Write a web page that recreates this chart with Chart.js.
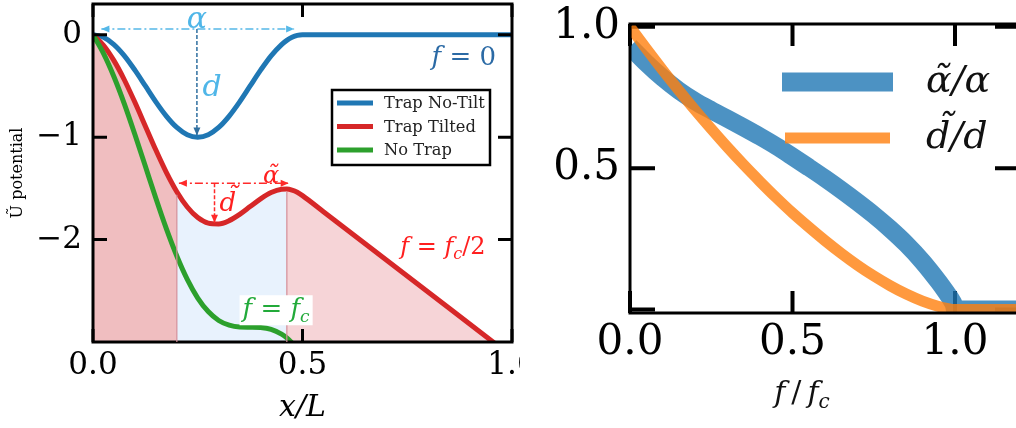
<!DOCTYPE html>
<html>
<head>
<meta charset="utf-8">
<script src="https://cdn.jsdelivr.net/npm/chart.js@4.4.1/dist/chart.umd.min.js"></script>
<style>
  html, body { margin: 0; padding: 0; background: #fff; overflow: hidden; width: 1016px; height: 428px; }
  #left { position: absolute; left: 0; top: 0; }
  #right { position: absolute; left: 520px; top: 0; }
</style>
</head>
<body>
<canvas id="left" width="520" height="428"></canvas>
<canvas id="right" width="520" height="428"></canvas>
<script>
// ---------------- data: left panel (potential vs x/L) ----------------
const posX    = [0, 0.025, 0.05, 0.075, 0.1, 0.125, 0.15, 0.175, 0.2, 0.225, 0.25, 0.275, 0.3, 0.325, 0.35, 0.375, 0.4, 0.425, 0.45, 0.4625, 0.475, 0.4875, 0.5, 0.55, 1.0];
const noTilt  = [0, -0.025, -0.096, -0.206, -0.346, -0.5, -0.655, -0.794, -0.905, -0.976, -1.0, -0.976, -0.905, -0.794, -0.655, -0.5, -0.346, -0.206, -0.096, -0.055, -0.025, -0.006, 0, 0, 0];
const tilted  = [0, -0.103, -0.253, -0.442, -0.660, -0.893, -1.126, -1.344, -1.533, -1.682, -1.785, -1.839, -1.847, -1.815, -1.754, -1.678, -1.602, -1.541, -1.509, -1.507, -1.517, -1.538, -1.571, -1.728, -3.142];
const noTrap  = [0, -0.182, -0.410, -0.677, -0.974, -1.285, -1.597, -1.894, -2.161, -2.389, -2.571, -2.703, -2.790, -2.836, -2.854, -2.856, -2.859, -2.877, -2.923, -2.960, -3.009, -3.069, -3.142, null, null];
const seriesNames = ["Trap No-Tilt", "Trap Tilted", "No Trap"];
const shadeEdges  = [0, 0.2, 0.4625, 1.0];
const shadeColors = ["rgb(240,190,192)", "rgb(232,242,253)", "rgb(246,212,215)"];
const leftXTicks = [0, 0.5, 1.0];
const leftYTicks = [-2, -1, 0];

// ---------------- data: right panel (ratios vs f/fc) ----------------
const forceX     = [0, 0.05, 0.1, 0.15, 0.2, 0.25, 0.3, 0.35, 0.4, 0.45, 0.5, 0.55, 0.6, 0.65, 0.7, 0.75, 0.8, 0.85, 0.9, 0.95, 0.975, 0.99, 0.997, 1.0, 1.2];
const alphaRatio = [0.93, 0.872, 0.82, 0.775, 0.737, 0.705, 0.675, 0.644, 0.612, 0.578, 0.541, 0.503, 0.464, 0.423, 0.38, 0.335, 0.286, 0.232, 0.17, 0.098, 0.058, 0.032, 0.016, 0, 0];
const depthRatio = [1.0, 0.923, 0.848, 0.776, 0.706, 0.639, 0.574, 0.512, 0.453, 0.396, 0.342, 0.292, 0.244, 0.199, 0.157, 0.119, 0.085, 0.055, 0.030, 0.011, 0.004, 0.001, 0, 0, 0];
const ratioNames = ["α̃/α", "d̃/d"];
const rightXTicks = [0, 0.5, 1.0];
const rightYTicks = [0.5, 1.0];
const rightYMarks = [0, 0.5, 1.0];

Chart.defaults.font.family = "'DejaVu Serif', serif";
Chart.defaults.color = "#000";

const SERIF = "'DejaVu Serif', serif";

// text with italic / normal / subscript parts
function drawMath(ctx, parts, x, y, size, color, align) {
  const fontFor = k => (k === "n" ? "" : "italic ") + (k === "s" ? Math.round(size * 0.65) : size) + "px " + SERIF;
  let w = 0;
  for (const [t, k] of parts) { ctx.font = fontFor(k); w += ctx.measureText(t).width; }
  let cx = align === "center" ? x - w / 2 : (align === "right" ? x - w : x);
  ctx.fillStyle = color;
  ctx.textBaseline = "middle";
  ctx.textAlign = "left";
  for (const [t, k] of parts) {
    ctx.font = fontFor(k);
    ctx.fillText(t, cx, k === "s" ? y + size * 0.3 : y);
    cx += ctx.measureText(t).width;
  }
  return w;
}

function measureMath(ctx, parts, size) {
  let w = 0;
  for (const [t, k] of parts) {
    ctx.font = (k === "n" ? "" : "italic ") + (k === "s" ? Math.round(size * 0.65) : size) + "px " + SERIF;
    w += ctx.measureText(t).width;
  }
  return w;
}

function arrow(ctx, x1, y1, x2, y2, color, dash, startHead, endHead) {
  ctx.save();
  ctx.strokeStyle = color;
  ctx.fillStyle = color;
  ctx.lineWidth = 1.5;
  ctx.setLineDash(dash);
  ctx.beginPath();
  ctx.moveTo(x1, y1);
  ctx.lineTo(x2, y2);
  ctx.stroke();
  ctx.setLineDash([]);
  const head = (xa, ya, xb, yb) => {
    const a = Math.atan2(yb - ya, xb - xa);
    ctx.beginPath();
    ctx.moveTo(xb, yb);
    ctx.lineTo(xb - 8 * Math.cos(a) + 3.5 * Math.sin(a), yb - 8 * Math.sin(a) - 3.5 * Math.cos(a));
    ctx.lineTo(xb - 8 * Math.cos(a) - 3.5 * Math.sin(a), yb - 8 * Math.sin(a) + 3.5 * Math.cos(a));
    ctx.closePath();
    ctx.fill();
  };
  if (endHead) head(x1, y1, x2, y2);
  if (startHead) head(x2, y2, x1, y1);
  ctx.restore();
}

function drawTicks(chart, o) {
  const {ctx, chartArea: a, scales: {x, y}} = chart;
  ctx.save();
  ctx.strokeStyle = "#000";
  ctx.lineWidth = o.tickWidth;
  ctx.beginPath();
  o.xTicks.forEach(v => {
    const p = x.getPixelForValue(v);
    ctx.moveTo(p, a.top); ctx.lineTo(p, a.top + o.xLen);
    ctx.moveTo(p, a.bottom); ctx.lineTo(p, a.bottom - o.xLen);
  });
  o.yTicks.forEach(v => {
    const p = y.getPixelForValue(v);
    ctx.moveTo(a.left, p); ctx.lineTo(a.left + o.yLen, p);
    ctx.moveTo(a.right, p); ctx.lineTo(a.right - o.yLen, p);
  });
  ctx.stroke();
  ctx.restore();
}

function frame(o) {
  return {
    id: "frame",
    beforeDatasetsDraw(chart) { if (!o.ticksOnTop) drawTicks(chart, o); },
    afterDatasetsDraw(chart) {
      if (o.ticksOnTop) drawTicks(chart, o);
      const {ctx, chartArea: a} = chart;
      ctx.save();
      ctx.strokeStyle = "#000";
      ctx.lineWidth = 3;
      ctx.strokeRect(a.left, a.top, a.right - a.left, a.bottom - a.top);
      ctx.restore();
    }
  };
}

//----------------left panel-------------------
const pts = arr => posX.map((x, i) => ({x: x, y: arr[i]}));
const region = (lo, hi) => posX.map((x, i) => ({x: x, y: tilted[i]})).filter(p => p.x >= lo && p.x <= hi);

const leftSets = [
  {label: seriesNames[2], data: pts(noTrap), borderColor: "#2ca02c", borderWidth: 5, order: 1},
  {label: seriesNames[1], data: pts(tilted), borderColor: "#d62728", borderWidth: 5, order: 2},
  {label: seriesNames[0], data: pts(noTilt), borderColor: "#1f77b4", borderWidth: 5, order: 3}
];
shadeColors.forEach((c, i) => {
  leftSets.push({label: "shade" + i, data: region(shadeEdges[i], shadeEdges[i + 1]),
    borderWidth: 0, borderColor: "rgba(0,0,0,0)", backgroundColor: c, fill: "start", order: 10});
});
leftSets.forEach(d => {
  d.pointRadius = 0;
  d.cubicInterpolationMode = "monotone";
  d.clip = 0;
  if (!d.fill) d.fill = false;
});

const leftNotes = {
  id: "leftNotes",
  afterDatasetsDraw(chart) {
    const {ctx, chartArea: a, scales: {x, y}} = chart;
    const X = v => x.getPixelForValue(v), Y = v => y.getPixelForValue(v);

    // boundaries of the shaded regions
    ctx.save();
    ctx.strokeStyle = "rgba(210,140,150,0.8)";
    ctx.lineWidth = 1.5;
    [shadeEdges[1], shadeEdges[2]].forEach(e => {
      const yv = tilted[posX.indexOf(e)];
      ctx.beginPath();
      ctx.moveTo(X(e), Y(yv) + 3);
      ctx.lineTo(X(e), a.bottom);
      ctx.stroke();
    });
    ctx.restore();

    // untilted trap: width and depth
    arrow(ctx, X(0.02), Y(0.055), X(0.48), Y(0.055), "#55b8e8", [8, 3, 2, 3], true, true);
    arrow(ctx, X(0.248), Y(0.055), X(0.248), Y(-0.985), "#2f6f9f", [4, 2], false, true);
    drawMath(ctx, [["α", "i"]], X(0.248), Y(0.14), 30, "#4fb6e8", "center");
    drawMath(ctx, [["d", "i"]], X(0.284), Y(-0.52), 30, "#4fb6e8", "center");

    // tilted trap: width and depth
    arrow(ctx, X(0.205), Y(-1.45), X(0.467), Y(-1.45), "#ff2a2a", [8, 3, 2, 3], true, true);
    arrow(ctx, X(0.29), Y(-1.45), X(0.29), Y(-1.835), "#ff2a2a", [4, 2], false, true);
    drawMath(ctx, [["α̃", "i"]], X(0.425), Y(-1.385), 24, "#ff1f1f", "center");
    drawMath(ctx, [["d̃", "i"]], X(0.322), Y(-1.655), 26, "#ff1f1f", "center");

    // curve labels
    drawMath(ctx, [["f", "i"], [" = 0", "n"]], X(0.885), Y(-0.225), 26, "#2b6aa5", "center");
    drawMath(ctx, [["f", "i"], [" = ", "n"], ["f", "i"], ["c", "s"], ["/2", "n"]], X(0.835), Y(-2.08), 24, "#ff1f1f", "center");
    const parts = [["f", "i"], [" = ", "n"], ["f", "i"], ["c", "s"]];
    const w = measureMath(ctx, parts, 26);
    ctx.fillStyle = "#fff";
    ctx.fillRect(X(0.437) - w / 2 - 3, Y(-2.69) - 15, w + 6, 30);
    drawMath(ctx, parts, X(0.437), Y(-2.69), 26, "#22aa3a", "center");

    // legend box
    const bx = a.left + 239, by = a.top + 86, bw = 158, bh = 75;
    ctx.save();
    ctx.fillStyle = "#fff";
    ctx.fillRect(bx, by, bw, bh);
    ctx.strokeStyle = "#000";
    ctx.lineWidth = 2.5;
    ctx.strokeRect(bx, by, bw, bh);
    const legendSets = [leftSets[2], leftSets[1], leftSets[0]];
    ctx.font = "16.3px " + SERIF;
    ctx.textBaseline = "middle";
    legendSets.forEach((d, i) => {
      const ly = by + 13 + i * 23.5;
      ctx.strokeStyle = d.borderColor;
      ctx.lineWidth = 5;
      ctx.beginPath();
      ctx.moveTo(bx + 5, ly);
      ctx.lineTo(bx + 41, ly);
      ctx.stroke();
      ctx.fillStyle = "#222";
      ctx.fillText(d.label, bx + 52, ly + 1);
    });
    ctx.restore();
  }
};

new Chart(document.getElementById("left"), {
  type: "line",
  data: {datasets: leftSets},
  options: {
    responsive: false,
    animation: false,
    layout: {padding: {left: 0, top: 4, right: 8, bottom: 0}},
    plugins: {legend: {display: false}, tooltip: {enabled: false}},
    scales: {
      x: {
        type: "linear", min: 0, max: 1,
        grid: {display: false, drawTicks: false}, border: {display: false},
        afterBuildTicks: s => { s.ticks = leftXTicks.map(v => ({value: v})); },
        afterFit: s => { s.height = 86; s.paddingLeft = 0; s.paddingRight = 0; },
        ticks: {font: {size: 31}, padding: 5, maxRotation: 0, autoSkip: false, callback: v => v.toFixed(1)},
        title: {display: true, text: "x/L", font: {size: 30, style: "italic"}, padding: {top: 0, bottom: 2}}
      },
      y: {
        type: "linear", min: -3, max: 0.3,
        grid: {display: false, drawTicks: false}, border: {display: false},
        afterBuildTicks: s => { s.ticks = leftYTicks.map(v => ({value: v})); },
        afterFit: s => { s.width = 93; s.paddingTop = 0; s.paddingBottom = 0; },
        ticks: {font: {size: 31}, padding: 11, autoSkip: false, callback: v => v === 0 ? "0" : "\u2212" + Math.abs(v)},
        title: {display: true, text: "Ũ potential", font: {size: 16}, padding: {top: 8, bottom: 0}}
      }
    }
  },
  plugins: [frame({xTicks: leftXTicks, yTicks: leftYTicks, xLen: 13, yLen: 14, tickWidth: 3, ticksOnTop: true}), leftNotes]
});

//----------------right panel-------------------
const rightSets = [
  {label: ratioNames[1], data: forceX.map((x, i) => ({x: x, y: depthRatio[i]})), borderColor: "rgba(255,127,14,0.8)", borderWidth: 11, order: 1},
  {label: ratioNames[0], data: forceX.map((x, i) => ({x: x, y: alphaRatio[i]})), borderColor: "rgba(31,119,180,0.8)", borderWidth: 18, order: 2}
];
rightSets.forEach(d => {
  d.pointRadius = 0;
  d.cubicInterpolationMode = "monotone";
  d.clip = 0;
  d.fill = false;
});

const rightNotes = {
  id: "rightNotes",
  afterDatasetsDraw(chart) {
    const {ctx, chartArea: a} = chart;
    ctx.save();
    const rows = [
      {d: rightSets[1], w: 19, x1: 152, x2: 263, y: a.top + 58},
      {d: rightSets[0], w: 11, x1: 155, x2: 260, y: a.top + 114}
    ];
    rows.forEach(r => {
      ctx.strokeStyle = r.d.borderColor;
      ctx.lineWidth = r.w;
      ctx.beginPath();
      ctx.moveTo(a.left + r.x1, r.y);
      ctx.lineTo(a.left + r.x2, r.y);
      ctx.stroke();
      drawMath(ctx, [[r.d.label, "i"]], a.left + 296, r.y, 38, "#111", "left");
    });
    ctx.restore();
    // axis title
    drawMath(ctx, [["f", "i"], ["\u2009/\u2009", "n"], ["f", "i"], ["c", "s"]], a.left + 172, 394, 30, "#111", "center");
  }
};

new Chart(document.getElementById("right"), {
  type: "line",
  data: {datasets: rightSets},
  options: {
    responsive: false,
    animation: false,
    layout: {padding: {left: 0, top: 24, right: 20, bottom: 0}},
    plugins: {legend: {display: false}, tooltip: {enabled: false}},
    scales: {
      x: {
        type: "linear", min: 0, max: 1.2,
        grid: {display: false, drawTicks: false}, border: {display: false},
        afterBuildTicks: s => { s.ticks = rightXTicks.map(v => ({value: v})); },
        afterFit: s => { s.height = 115; s.paddingLeft = 0; s.paddingRight = 0; },
        ticks: {font: {size: 42}, padding: 5, maxRotation: 0, autoSkip: false, callback: v => v.toFixed(1)}
      },
      y: {
        type: "linear", min: -0.012, max: 1.01,
        grid: {display: false, drawTicks: false}, border: {display: false},
        afterBuildTicks: s => { s.ticks = rightYTicks.map(v => ({value: v})); },
        afterFit: s => { s.width = 110; s.paddingTop = 0; s.paddingBottom = 0; },
        ticks: {font: {size: 42}, padding: 10, autoSkip: false, callback: v => v.toFixed(1)}
      }
    }
  },
  plugins: [frame({xTicks: rightXTicks, yTicks: rightYMarks, xLen: 22, yLen: 25, tickWidth: 4, ticksOnTop: false}), rightNotes]
});
</script>
</body>
</html>
